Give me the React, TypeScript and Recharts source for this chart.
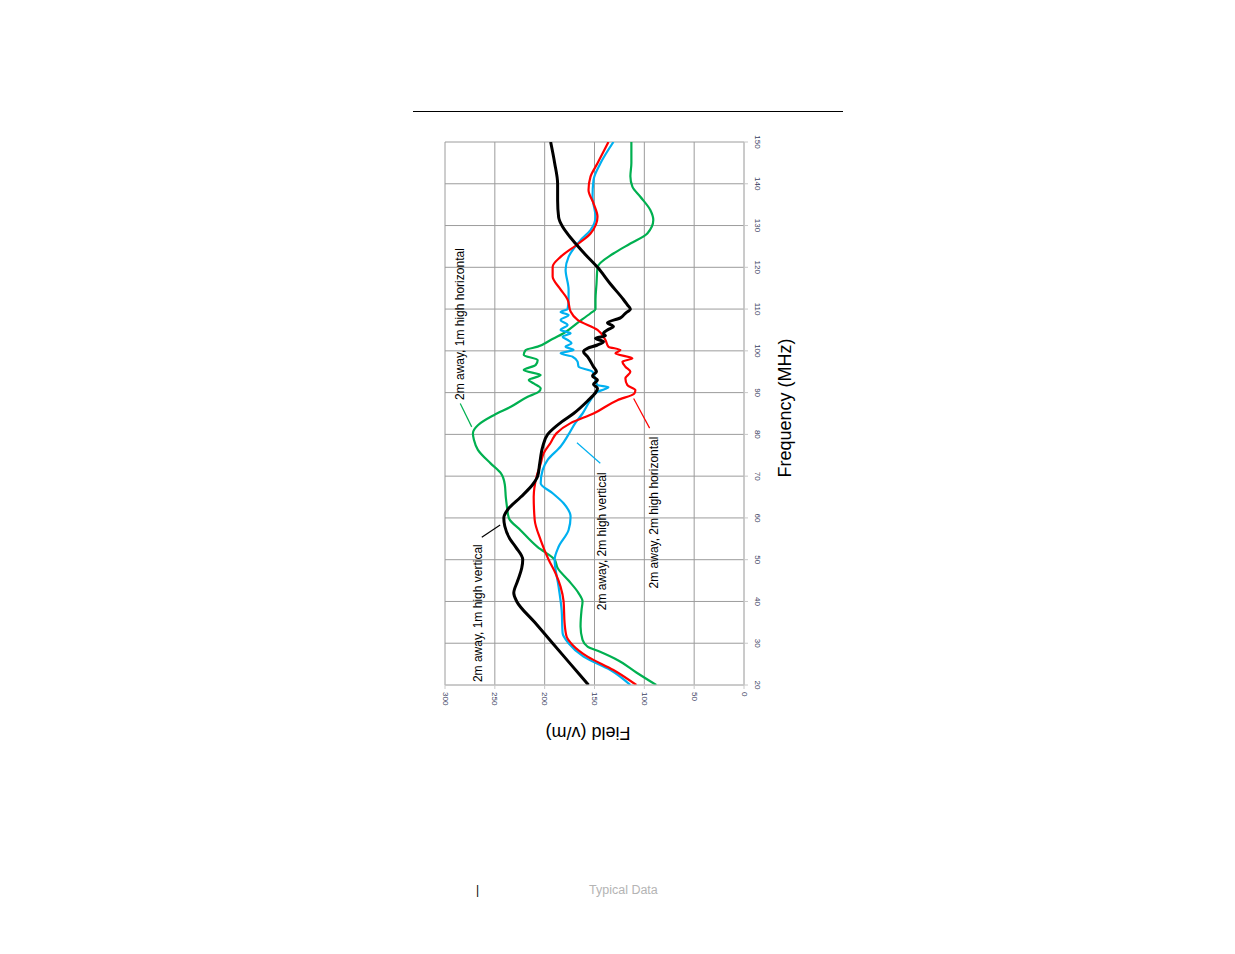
import { LineChart, Line, XAxis, YAxis, CartesianGrid, ReferenceLine, ReferenceDot } from "recharts"

// frequency (MHz) / field (v/m) pairs
const freqTicks = [20, 30, 40, 50, 60, 70, 80, 90, 100, 110, 120, 130, 140, 150]
const fieldTicks = [0, 50, 100, 150, 200, 250, 300]

const vert1m: [number, number][] = [
  [20, 156], [25, 174], [30, 192], [35, 210], [40, 228], [42, 231], [45, 227], [48, 223], [50, 222],
  [53, 229], [55, 235], [58, 240], [60, 241], [62, 237], [65, 224], [68, 212], [70, 207], [73, 205],
  [77, 202], [80, 197], [83, 183], [85, 171], [88, 157], [90, 149], [91, 147], [92, 151], [93, 147],
  [94, 152], [95, 148], [96.2, 151], [98.6, 157], [99.8, 161], [100.6, 157], [101.4, 147], [102.2, 141],
  [103, 149], [103.6, 139], [104.2, 141], [105, 137], [105.8, 131], [106.7, 137], [107.9, 124], [109, 119],
  [110, 114], [111, 117], [112.3, 121], [116, 134], [120, 147], [123, 159], [125.7, 169], [128, 177],
  [129.7, 182], [132, 186], [136, 187], [140, 187], [145, 190], [150, 194],
]

const horiz1m: [number, number][] = [
  [20, 88], [23, 108], [26, 127], [28, 145], [29.2, 157], [30.8, 162], [34, 164], [38, 163], [40, 162],
  [42, 166], [45, 176], [48, 187], [50, 190], [53, 207], [57, 224], [60, 236], [63, 238], [65, 239],
  [68, 240], [70.7, 244], [73, 254], [76.3, 267], [78.7, 271], [80.3, 272], [82.2, 267], [84.6, 251],
  [86.6, 234], [89, 217], [90.2, 206], [91, 204], [92.2, 211], [93, 216], [94.2, 204], [95.4, 221],
  [96.6, 209], [97.8, 207], [99, 221], [100.2, 219], [101, 207], [102.6, 194], [104.2, 181], [106.7, 167],
  [109, 154], [110, 149], [112.3, 149], [116, 148], [120, 147], [123.3, 131], [125.7, 114], [128.1, 97],
  [131.3, 91], [133.7, 94], [136.9, 104], [139.3, 112], [141.8, 114], [145, 113], [150, 113],
]

const horiz2m: [number, number][] = [
  [20, 108], [23.6, 131], [26.8, 157], [29.6, 172], [31.6, 178], [34.8, 180], [40, 181], [43.5, 184],
  [46.7, 189], [50, 196], [54.7, 204], [59.5, 210], [65, 211], [70, 208], [73, 204], [75.5, 201],
  [78, 194], [80.3, 188], [82.7, 174], [85, 151], [88.2, 127], [89.8, 110], [90.6, 109], [91.8, 117],
  [93.4, 119], [95, 114], [96.2, 119], [97.4, 122], [98.2, 112], [99.4, 129], [100.2, 124], [101, 136],
  [102.6, 139], [105, 147], [107.4, 167], [109.4, 174], [112.3, 177], [115, 185], [117.8, 192],
  [120.1, 192], [122.5, 184], [125.7, 166], [128.1, 154], [132.1, 147], [135.3, 151], [138.5, 156],
  [141.7, 154], [144.9, 147], [150, 136],
]

const vert2m: [number, number][] = [
  [20, 114], [23.6, 134], [26.8, 161], [30, 176], [32.4, 182], [38, 183], [43.5, 186], [50, 190],
  [53.1, 186], [57.1, 176], [60.3, 174], [63.5, 181], [65.9, 192], [68.3, 204], [71.5, 202], [73.9, 197],
  [77.1, 184], [80, 176], [82.8, 169], [85, 162], [88.2, 154], [90.2, 147], [90.8, 140], [91.3, 136],
  [91.8, 147], [93, 149], [95, 152], [96.2, 166], [97.4, 167], [98.6, 172], [99.4, 184], [100.2, 171],
  [101, 179], [101.8, 173], [102.6, 177], [103.4, 182], [104.2, 174], [105, 184], [106.2, 177],
  [107.4, 184], [108.6, 176], [109.3, 184], [110, 177], [112.3, 176], [114.6, 176], [119.4, 179],
  [122.5, 176], [126.5, 164], [128.9, 154], [132.1, 149], [136.9, 152], [140.9, 151], [144.9, 144], [150, 131],
]

const toPoints = (pairs: [number, number][]) => pairs.map(([f, v]) => ({ f, v }))

const FONT = "'Liberation Sans', Arial, sans-serif"
const TICK_COLOR = "#3a4060"

// tick labels are printed upside down in the unrotated chart
function FieldTick({ x, y, payload }: any) {
  return (
    <text x={x} y={y} transform={`rotate(180 ${x} ${y})`} textAnchor="start" dominantBaseline="central" fontSize={8} fill={TICK_COLOR}>
      {payload.value}
    </text>
  )
}

function FreqTick({ x, y, payload }: any) {
  const ty = y + 4
  return (
    <text x={x} y={ty} transform={`rotate(180 ${x} ${ty})`} textAnchor="middle" fontSize={8} fill={TICK_COLOR}>
      {payload.value}
    </text>
  )
}

const note = (value: string) => ({ value, position: "center" as const, fontSize: 12, fill: "#000" })

export default function App() {
  return (
    <div style={{ position: "absolute", left: 0, top: 0, width: 1235, height: 954, background: "#fff", fontFamily: FONT }}>
      <div style={{ position: "absolute", left: 413, top: 111, width: 430, height: 1, background: "#000" }} />

      {/* chart is drawn in landscape and turned 90deg counter-clockwise */}
      <div style={{ position: "absolute", left: 435, top: 765, width: 643, height: 340, transformOrigin: "0 0", transform: "rotate(-90deg)" }}>
        <LineChart width={643} height={340} margin={{ top: 10, right: 20, bottom: 0, left: 40 }} style={{ fontFamily: FONT }}>
          <CartesianGrid stroke="#9c9c9c" strokeWidth={1} />
          <XAxis
            dataKey="f"
            type="number"
            domain={[20, 150]}
            ticks={freqTicks}
            height={31}
            stroke="#c8c8c8"
            tickSize={4}
            tickMargin={3}
            tick={<FreqTick />}
            allowDataOverflow
          />
          <YAxis
            type="number"
            domain={[0, 300]}
            ticks={fieldTicks}
            width={40}
            stroke="#c8c8c8"
            tickSize={4}
            tickMargin={3}
            tick={<FieldTick />}
            allowDataOverflow
          />
          <Line data={toPoints(horiz1m)} dataKey="v" type="monotone" stroke="#00b050" strokeWidth={2.2} dot={false} isAnimationActive={false} />
          <Line data={toPoints(vert2m)} dataKey="v" type="monotone" stroke="#00b0f0" strokeWidth={2.2} dot={false} isAnimationActive={false} />
          <Line data={toPoints(horiz2m)} dataKey="v" type="monotone" stroke="#ff0000" strokeWidth={2.2} dot={false} isAnimationActive={false} />
          <Line data={toPoints(vert1m)} dataKey="v" type="monotone" stroke="#000000" strokeWidth={3} dot={false} isAnimationActive={false} />

          <ReferenceLine segment={[{ x: 87.4, y: 284.7 }, { x: 81.8, y: 273.2 }]} stroke="#00b050" strokeWidth={1.2} />
          <ReferenceLine segment={[{ x: 55.4, y: 263.1 }, { x: 58.3, y: 244.7 }]} stroke="#000" strokeWidth={1.2} />
          <ReferenceLine segment={[{ x: 78.0, y: 167.6 }, { x: 73.1, y: 144.2 }]} stroke="#00b0f0" strokeWidth={1.2} />
          <ReferenceLine segment={[{ x: 88.6, y: 110.7 }, { x: 81.5, y: 94.7 }]} stroke="#ff0000" strokeWidth={1.2} />

          <ReferenceDot x={106.4} y={285} r={0} fill="none" stroke="none" label={note("2m away, 1m high horizontal")} />
          <ReferenceDot x={37.2} y={267.5} r={0} fill="none" stroke="none" label={note("2m away, 1m high vertical")} />
          <ReferenceDot x={54.4} y={142.4} r={0} fill="none" stroke="none" label={note("2m away, 2m high vertical")} />
          <ReferenceDot x={61.3} y={90.5} r={0} fill="none" stroke="none" label={note("2m away, 2m high horizontal")} />
        </LineChart>
      </div>

      <div style={{ position: "absolute", left: 785, top: 408, transform: "translate(-50%, -50%) rotate(-90deg)", fontSize: 18, lineHeight: 1, whiteSpace: "nowrap", color: "#000" }}>
        Frequency (MHz)
      </div>
      <div style={{ position: "absolute", left: 587.5, top: 733, transform: "translate(-50%, -50%) rotate(180deg)", fontSize: 18, lineHeight: 1, whiteSpace: "nowrap", color: "#000" }}>
        Field (v/m)
      </div>

      <div style={{ position: "absolute", left: 476, top: 884, fontSize: 12, lineHeight: 1, color: "#000" }}>|</div>
      <div style={{ position: "absolute", left: 589, top: 884.4, fontSize: 12.5, lineHeight: 1, color: "#b4b4b4", whiteSpace: "nowrap" }}>
        Typical Data
      </div>
    </div>
  )
}
